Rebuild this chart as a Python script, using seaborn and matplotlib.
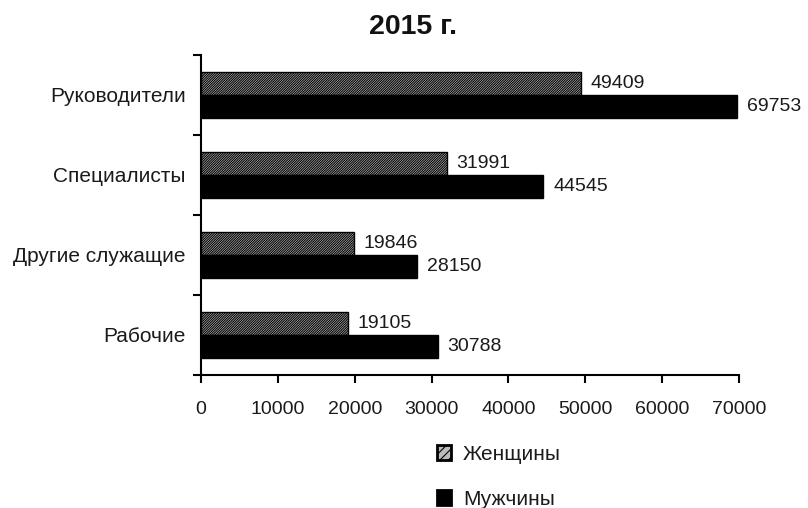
import matplotlib
matplotlib.use("Agg")
import matplotlib.pyplot as plt
import seaborn as sns
import pandas as pd
from matplotlib.patches import Patch
from matplotlib.ticker import FixedLocator

categories = ["Руководители", "Специалисты", "Другие служащие", "Рабочие"]
women = [49409, 31991, 19846, 19105]
men = [69753, 44545, 28150, 30788]
series = ["Женщины", "Мужчины"]
title = "2015 г."

sns.set_theme(style="white")
plt.rcParams['font.family'] = ['Liberation Sans', 'DejaVu Sans']
plt.rcParams['hatch.linewidth'] = 0.8

df = pd.DataFrame({
    "cat": categories * 2,
    "val": women + men,
    "sex": [series[0]] * len(categories) + [series[1]] * len(categories),
})

fig = plt.figure(figsize=(8.08, 5.08), dpi=100)
ax = fig.add_axes([201/808, 1-375/508, (739-201)/808, (375-55)/508])

sns.barplot(data=df, y="cat", x="val", hue="sex", orient="h", order=categories,
            hue_order=series, palette=["#d0d0d0", "black"], width=0.58,
            edgecolor="black", linewidth=1.0, legend=False, ax=ax, saturation=1)

for p in ax.containers[0]:
    p.set_hatch("/" * 14)

for c in ax.containers:
    ax.bar_label(c, padding=7, fontsize=14, color="#1a1a1a")

ax.set_xlim(0, 70000)
ax.set_ylim(len(categories)-0.5, -0.5)
ax.set_xticks(range(0, 70001, 10000))
ax.set_xlabel("")
ax.set_ylabel("")
for s in ["top", "right"]:
    ax.spines[s].set_visible(False)
for s in ["left", "bottom"]:
    ax.spines[s].set_color("black")
    ax.spines[s].set_linewidth(1.5)

ax.tick_params(axis="x", direction="out", length=6, width=1.5, color="black",
               labelsize=14, pad=12.5, bottom=True, labelcolor="#1a1a1a")
ax.tick_params(axis="y", which="major", length=0, labelsize=15, pad=11, labelcolor="#1a1a1a")
ax.yaxis.set_minor_locator(FixedLocator([i - 0.5 for i in range(len(categories)+1)]))
ax.tick_params(axis="y", which="minor", direction="out", length=6, width=1.5, color="black", left=True)

fig.text(413/808, 1-27/508, title, ha="center", va="center", fontsize=20.5,
         fontweight="bold", color="#111111")

handles = [Patch(facecolor="#bbbbbb", edgecolor="black", hatch="////", linewidth=2),
           Patch(facecolor="black", edgecolor="black", linewidth=2)]
fig.legend(handles, series, loc="upper left", bbox_to_anchor=(418/808, 1-426/508),
           frameon=False, fontsize=15, handlelength=0.67, handleheight=0.67,
           labelspacing=1.25, handletextpad=0.6, labelcolor="#1a1a1a")

fig.savefig("out.png", dpi=100)
